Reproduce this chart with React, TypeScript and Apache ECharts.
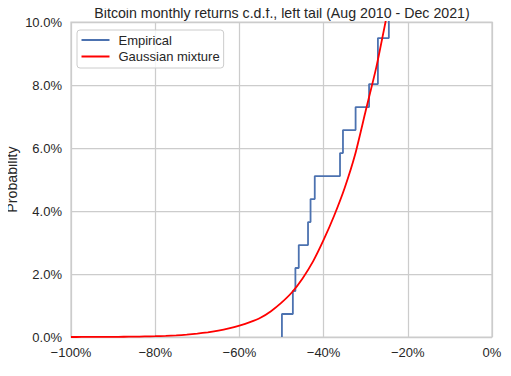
import React, { useEffect, useRef } from "react";
import * as echarts from "echarts";

const TITLE = "Bitcoin monthly returns c.d.f., left tail (Aug 2010 - Dec 2021)";
const N_MONTHS = 137;
// sorted lowest monthly returns (%)
const empiricalReturns = [-49.9, -47.3, -46.7, -45.9, -43.7, -43.1, -42.1, -36.1, -35.4, -32.4, -29.2, -27.1, -27.1, -24.5];
// Gaussian mixture c.d.f. (x in %, probability in %)
const mixtureX = [-100, -97.5, -95, -92.5, -90, -87.5, -85, -82.5, -80, -77.5, -75, -72.5, -70, -67.5, -65, -62.5, -60, -57.5, -55, -52.5, -50, -47.5, -45, -42.5, -40, -37.5, -35, -32.5, -30, -27.5, -25];
const mixtureP = [0.0, 0.001, 0.002, 0.003, 0.005, 0.008, 0.012, 0.018, 0.025, 0.035, 0.05, 0.075, 0.11, 0.15, 0.2, 0.27, 0.36, 0.47, 0.61, 0.82, 1.09, 1.42, 1.86, 2.4, 3.08, 3.85, 4.73, 5.8, 7.18, 8.55, 10.2];
const xTicks = { min: -100, max: 0, interval: 20 };
const yTicks = { min: 0, max: 10, interval: 2 };

export default function App() {
  const ref = useRef<HTMLDivElement>(null);
  useEffect(() => {
    if (!ref.current) return;
    const chart = echarts.init(ref.current, undefined, { renderer: "svg" });
    const empData: number[][] = [[empiricalReturns[0], 0]];
    empiricalReturns.forEach((r, i) => empData.push([r, ((i + 1) / N_MONTHS) * 100]));
    const mixData = mixtureX.map((x, i) => [x, mixtureP[i]]);
    const font = "Liberation Sans, Arial, sans-serif";
    const textColor = "#262626";
    chart.setOption({
      animation: false,
      title: {
        text: TITLE,
        left: 277,
        textAlign: "center",
        top: 1,
        textStyle: { fontFamily: font, fontSize: 14.2, fontWeight: "normal", color: textColor },
      },
      grid: {
        left: 71, right: 19, top: 22, bottom: 39,
        containLabel: false,
        outerBoundsMode: "none",
        show: true, borderColor: "#cccccc", borderWidth: 1.25, backgroundColor: "#fff",
      },
      legend: {
        left: 77,
        top: 30,
        orient: "vertical",
        icon: "rect",
        itemWidth: 28,
        itemHeight: 2,
        itemGap: 3.5,
        padding: [3.5, 4, 5, 4.5],
        backgroundColor: "rgba(255,255,255,0.8)",
        borderColor: "#cccccc",
        borderWidth: 1,
        borderRadius: 3,
        textStyle: { fontFamily: font, fontSize: 13, color: textColor, padding: [0, 0, 0, 4] },
        data: ["Empirical", "Gaussian mixture"],
      },
      xAxis: {
        type: "value",
        min: xTicks.min,
        max: xTicks.max,
        interval: xTicks.interval,
        axisLine: { show: false },
        axisTick: { show: false },
        splitLine: { show: true, lineStyle: { color: "#cccccc", width: 1.25 } },
        axisLabel: {
          margin: 9,
          fontFamily: font,
          fontSize: 13,
          color: textColor,
          formatter: (v: number) => (v < 0 ? "\u2212" : "") + Math.abs(v) + "%",
        },
      },
      yAxis: {
        type: "value",
        min: yTicks.min,
        max: yTicks.max,
        interval: yTicks.interval,
        name: "Probability",
        nameLocation: "middle",
        nameGap: 52,
        nameMoveOverlap: false,
        nameTextStyle: { fontFamily: font, fontSize: 14.2, color: textColor },
        axisLine: { show: false },
        axisTick: { show: false },
        splitLine: { show: true, lineStyle: { color: "#cccccc", width: 1.25 } },
        axisLabel: {
          margin: 9,
          fontFamily: font,
          fontSize: 13,
          color: textColor,
          formatter: (v: number) => v.toFixed(1) + "%",
        },
      },
      series: [
        {
          name: "Empirical",
          type: "line",
          step: "end",
          data: empData,
          symbol: "none",
          clip: true,
          lineStyle: { color: "#4C72B0", width: 1.8 },
          itemStyle: { color: "#4C72B0" },
          z: 2,
        },
        {
          name: "Gaussian mixture",
          type: "line",
          smooth: 0.2,
          data: mixData,
          symbol: "none",
          clip: true,
          lineStyle: { color: "#ff0000", width: 1.8 },
          itemStyle: { color: "#ff0000" },
          z: 3,
        },
      ],
    });
    return () => chart.dispose();
  }, []);
  return <div ref={ref} style={{ width: 511, height: 376, margin: -8 }} />;
}
